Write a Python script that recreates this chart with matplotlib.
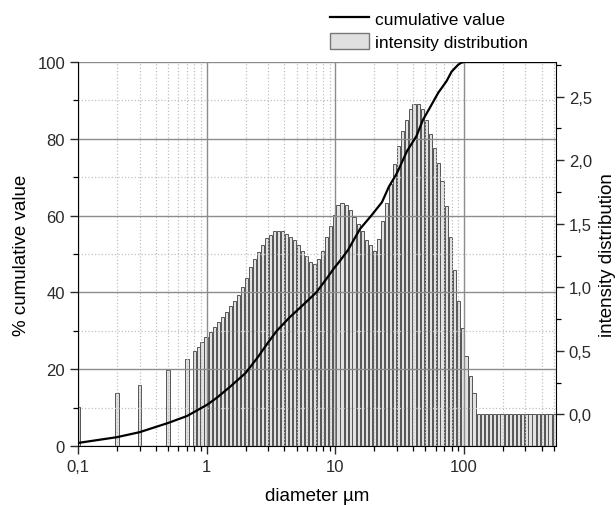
import matplotlib
matplotlib.use("Agg")
import matplotlib.pyplot as plt
from matplotlib.lines import Line2D
from matplotlib.patches import Patch
from matplotlib.ticker import MultipleLocator, FuncFormatter, FixedLocator, NullFormatter

plt.rcParams['font.family'] = ['Liberation Sans', 'DejaVu Sans']

# channel diameters (µm) of the intensity distribution
diameters = [0.1, 0.2, 0.3, 0.5, 0.7,
             0.80, 0.86, 0.92, 0.99, 1.07, 1.15, 1.23, 1.32, 1.42, 1.53,
             1.64, 1.76, 1.89, 2.03, 2.18, 2.34, 2.52, 2.70, 2.90, 3.12,
             3.35, 3.60, 3.87, 4.15, 4.46, 4.79, 5.15, 5.53, 5.94, 6.38,
             6.86, 7.36, 7.91, 8.50, 9.13, 9.81, 10.5, 11.3, 12.2, 13.1,
             14.0, 15.1, 16.2, 17.4, 18.7, 20.1, 21.6, 23.2, 24.9, 26.7,
             28.7, 30.8, 33.1, 35.6, 38.2, 41.0, 44.1, 47.4, 50.9, 54.7,
             58.7, 63.1, 67.7, 72.8, 78.2, 84.0, 90.2, 96.9, 104, 112,
             120, 129, 139, 149, 160, 172, 185, 198, 213, 229,
             246, 264, 284, 305, 327, 351, 378, 406, 436, 468,
             503]

# intensity distribution values (right axis)
intensity = [0.06, 0.17, 0.23, 0.35, 0.44,
             0.50, 0.53, 0.57, 0.61, 0.65, 0.69, 0.73, 0.77, 0.81, 0.85,
             0.89, 0.94, 1.00, 1.07,
             1.16, 1.22, 1.28, 1.33, 1.39, 1.41, 1.44, 1.44, 1.44, 1.42,
             1.40, 1.37, 1.33, 1.29, 1.25, 1.20, 1.18, 1.22, 1.29, 1.40,
             1.48, 1.57, 1.65, 1.66, 1.65, 1.61, 1.55, 1.50, 1.44, 1.37,
             1.33, 1.29, 1.38, 1.52, 1.66, 1.81, 1.97, 2.11, 2.23, 2.32,
             2.40, 2.44, 2.44, 2.40, 2.32, 2.21, 2.10, 1.98, 1.84, 1.64,
             1.40, 1.14, 0.89, 0.68, 0.46, 0.30, 0.17,
             0.0, 0.0, 0.0, 0.0, 0.0, 0.0, 0.0, 0.0, 0.0, 0.0,
             0.0, 0.0, 0.0, 0.0, 0.0, 0.0, 0.0, 0.0, 0.0, 0.0]

# cumulative curve (left axis, %)
cum_d = [0.1, 0.2, 0.3, 0.5, 0.7, 1.0, 1.2, 1.5, 2.0, 2.5, 3.0, 3.5, 4.4,
         5.5, 7.1, 8.5, 9.6, 11, 12.5, 15.5, 19, 23, 26, 30, 36, 42.6, 48,
         54, 63, 73, 80, 90, 95, 100, 510]
cum_v = [0.8, 2.3, 3.6, 6.0, 7.8, 10.7, 12.6, 15.3, 19.0, 23.2, 27.0, 30.0,
         33.5, 36.5, 40.0, 43.5, 46.0, 48.5, 51.0, 56.5, 60.0, 63.5, 67.5,
         71.0, 76.8, 80.7, 85.0, 88.0, 92.0, 95.0, 97.5, 99.3, 99.8, 100, 100]

XMIN, XMAX = 0.1, 515
Y2MIN, Y2MAX = -0.248, 2.773
STEP = 1.0742   # ratio between neighbouring channels
FILL = 0.9      # bar width as a fraction of the channel

fig = plt.figure(figsize=(6.16, 5.06), dpi=100)
ax = fig.add_axes([0.127, 0.1166, 0.775, 0.7589])
ax2 = ax.twinx()

# bars on the right axis, drawn from the bottom of the frame
lefts = [d * STEP ** (-FILL / 2) for d in diameters]
widths = [d * STEP ** (FILL / 2) - l for d, l in zip(diameters, lefts)]
ax2.bar(lefts, [v - Y2MIN for v in intensity], width=widths, bottom=Y2MIN,
        align='edge', color='#e2e2e2', edgecolor='#555555', linewidth=0.7)

# cumulative line on the left axis, above the bars
ax.set_zorder(ax2.get_zorder() + 1)
ax.patch.set_visible(False)
ax.plot(cum_d, cum_v, color='black', linewidth=1.6)

ax.set_xscale('log')
ax.set_xlim(XMIN, XMAX)
ax.set_ylim(0, 100)
ax2.set_ylim(Y2MIN, Y2MAX)

ax.xaxis.set_major_locator(FixedLocator([0.1, 1, 10, 100]))
ax.xaxis.set_major_formatter(FuncFormatter(lambda v, p: f"{v:g}".replace('.', ',')))
ax.xaxis.set_minor_locator(FixedLocator([m * 10.0 ** e for e in (-1, 0, 1, 2) for m in range(2, 10)]))
ax.xaxis.set_minor_formatter(NullFormatter())
ax.yaxis.set_major_locator(MultipleLocator(20))
ax.yaxis.set_minor_locator(MultipleLocator(10))
ax2.yaxis.set_major_locator(MultipleLocator(0.5))
ax2.yaxis.set_minor_locator(MultipleLocator(0.25))
ax2.yaxis.set_major_formatter(FuncFormatter(lambda v, p: f"{v:.1f}".replace('.', ',')))

# grid: solid for major, dotted for minor
ax.grid(which='major', color='#8c8c8c', linewidth=1.0, linestyle='-')
ax.grid(which='minor', color='#c0c0c0', linewidth=0.9, linestyle=':')

for a in (ax, ax2):
    a.tick_params(which='major', direction='out', length=6, width=1.0,
                  labelsize=12, colors='#2a2a2a')
    a.tick_params(which='minor', direction='out', length=3.5, width=0.9)
    a.spines['top'].set_visible(False)
ax.spines['right'].set_visible(False)
ax2.spines['left'].set_visible(False)
ax2.spines['bottom'].set_visible(False)

ax.set_xlabel('diameter µm', fontsize=13.5, labelpad=9)
ax.set_ylabel('% cumulative value', fontsize=13.5, labelpad=5)
ax2.set_ylabel('intensity distribution', fontsize=13.5, labelpad=5)

handles = [Line2D([], [], color='black', linewidth=1.6),
           Patch(facecolor='#e0e0e0', edgecolor='#777777', linewidth=1.0)]
fig.legend(handles, ['cumulative value', 'intensity distribution'],
           loc='upper left', bbox_to_anchor=(0.518, 1.0), frameon=False,
           fontsize=12.5, handlelength=2.3, handleheight=1.1, labelspacing=0.35,
           handletextpad=0.3, borderaxespad=0.2)

fig.savefig('out.png', dpi=100)
